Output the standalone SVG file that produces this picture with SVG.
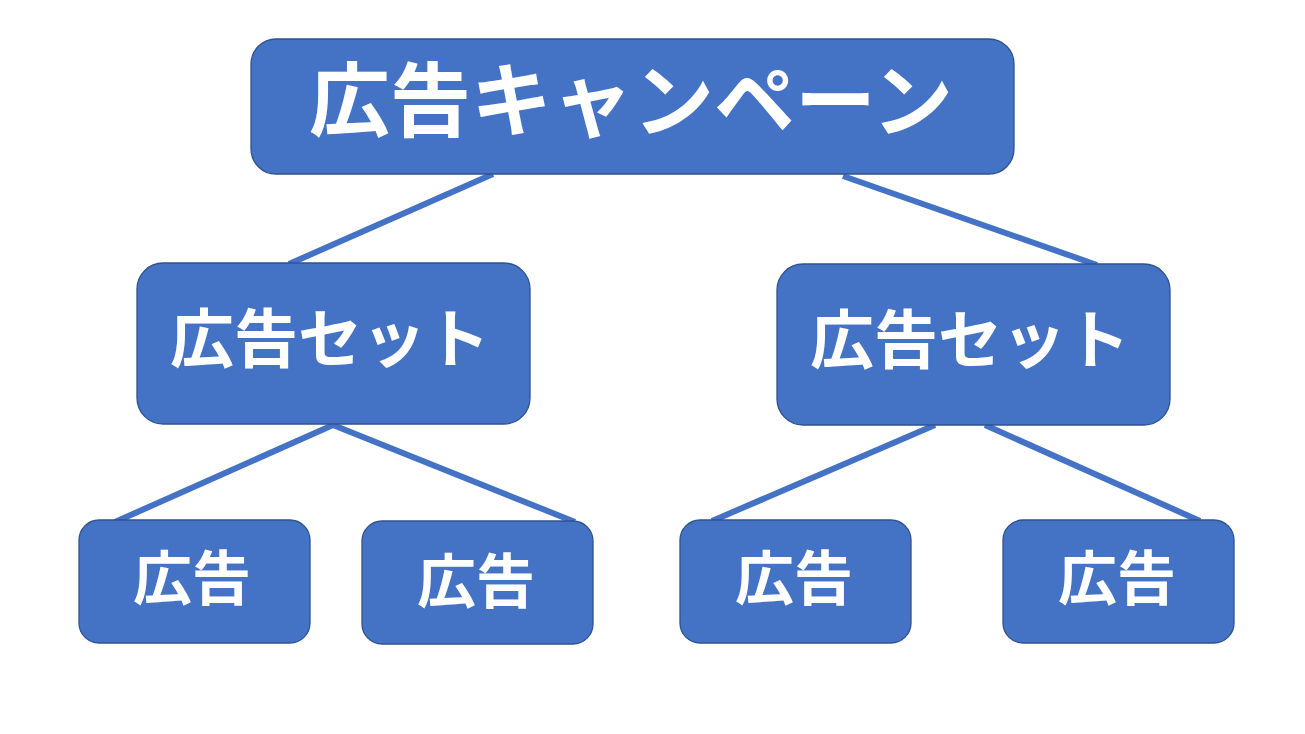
<svg xmlns="http://www.w3.org/2000/svg" width="1305" height="734" viewBox="0 0 1305 734">
<style>
.box{fill:#4472C4;stroke:#2F528F;stroke-width:1.3}
.lbl{fill:#FFFFFF;font-family:"Noto Sans CJK JP","Noto Sans CJK SC",sans-serif;font-weight:700;text-anchor:middle;dominant-baseline:central}
.conn{stroke:#4472C4;stroke-width:6;fill:none}
</style>
<rect width="1305" height="734" fill="#FFFFFF"/>
<g id="connectors">
<line class="conn" x1="493" y1="174" x2="289" y2="264"/>
<line class="conn" x1="843" y1="176" x2="1097" y2="265"/>
<line class="conn" x1="333" y1="425" x2="115" y2="522"/>
<line class="conn" x1="333" y1="425" x2="575" y2="522"/>
<line class="conn" x1="935" y1="425" x2="712" y2="521"/>
<line class="conn" x1="985" y1="425" x2="1200" y2="521"/>
</g>
<g id="campaign">
<rect class="box" x="251" y="39" width="763" height="135" rx="25"/>
<text class="lbl" x="631" y="94" font-size="81">広告キャンペーン</text>
</g>
<g id="adset-left">
<rect class="box" x="137" y="263" width="393" height="161" rx="26"/>
<text class="lbl" x="330" y="334" font-size="64">広告セット</text>
</g>
<g id="adset-right">
<rect class="box" x="777" y="264" width="393" height="161" rx="26"/>
<text class="lbl" x="970" y="335" font-size="64">広告セット</text>
</g>
<g id="ad-1">
<rect class="box" x="79" y="520" width="231" height="123" rx="20"/>
<text class="lbl" x="192" y="574" font-size="59">広告</text>
</g>
<g id="ad-2">
<rect class="box" x="362" y="521" width="231" height="123" rx="20"/>
<text class="lbl" x="476" y="577" font-size="59">広告</text>
</g>
<g id="ad-3">
<rect class="box" x="680" y="520" width="231" height="123" rx="20"/>
<text class="lbl" x="794" y="574" font-size="59">広告</text>
</g>
<g id="ad-4">
<rect class="box" x="1003" y="520" width="231" height="123" rx="20"/>
<text class="lbl" x="1117" y="574" font-size="59">広告</text>
</g>
</svg>
